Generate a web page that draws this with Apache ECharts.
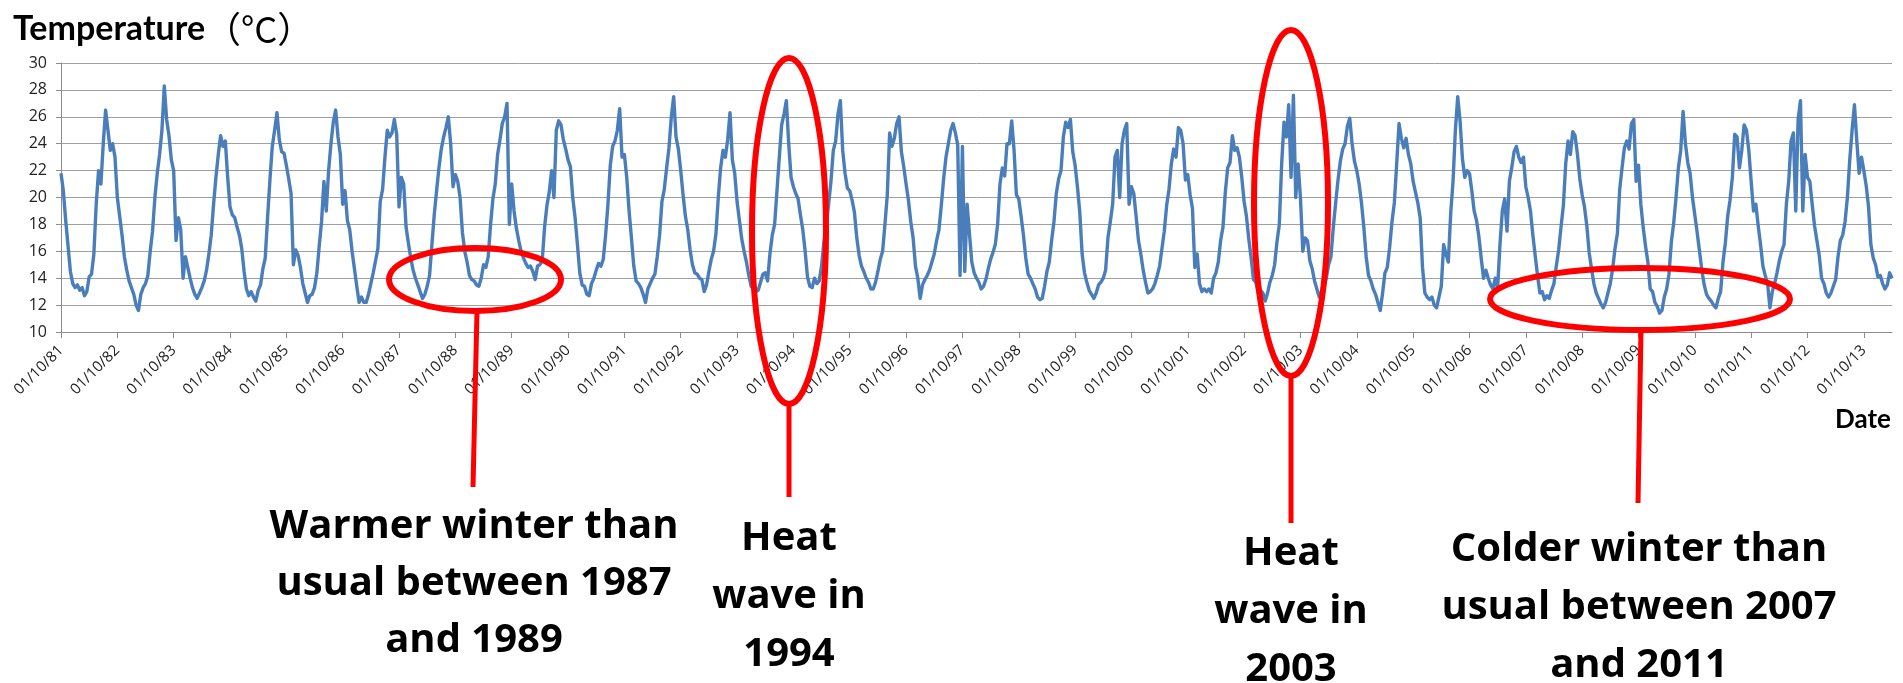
<!DOCTYPE html>
<html>
<head>
<meta charset="utf-8">
<script src="https://cdn.jsdelivr.net/npm/echarts@6/dist/echarts.min.js"></script>
<style>
html,body{margin:0;padding:0;background:#fff;}
#chart{width:1903px;height:683px;}
</style>
</head>
<body>
<div id="chart"></div>
<script>
// Tick labels (one per season start, 1 October)
const tickLabels = ['01/10/81','01/10/82','01/10/83','01/10/84','01/10/85','01/10/86','01/10/87','01/10/88','01/10/89','01/10/90','01/10/91','01/10/92','01/10/93','01/10/94','01/10/95','01/10/96','01/10/97','01/10/98','01/10/99','01/10/00','01/10/01','01/10/02','01/10/03','01/10/04','01/10/05','01/10/06','01/10/07','01/10/08','01/10/09','01/10/10','01/10/11','01/10/12','01/10/13'];

// Temperature (°C), half-monthly readings, each season starting 1 October
const s1981 = [21.8,20.5,18.3,16.4,14.5,13.6,13.3,13.5,13.1,13.3,12.7,13.0,14.1,14.3,15.8,19.5,22.0,21.0,24.0,26.5,25.0,23.5,24.0,23.0];
const s1982 = [20.0,18.6,17.2,15.6,14.6,13.8,13.3,12.8,12.0,11.6,12.8,13.3,13.6,14.2,16.0,17.5,20.0,21.8,23.2,25.0,28.3,25.8,24.6,22.8];
const s1983 = [22.0,16.8,18.5,17.6,14.0,15.6,14.8,14.0,13.3,12.8,12.5,12.9,13.3,13.8,14.6,15.8,17.2,19.5,21.5,23.2,24.6,23.8,24.2,21.5];
const s1984 = [19.3,18.7,18.5,17.8,17.2,16.2,14.5,13.2,12.7,13.0,12.6,12.3,13.1,13.5,14.7,15.5,18.5,21.3,23.8,25.0,26.3,24.3,23.4,23.3];
const s1985 = [22.4,21.4,20.3,15.0,16.1,15.7,14.8,13.6,12.9,12.2,12.7,12.8,13.3,14.4,16.4,18.2,21.2,19.0,22.0,24.0,25.6,26.5,24.5,23.2];
const s1986 = [19.5,20.5,18.3,17.6,16.0,14.7,13.4,12.2,12.6,12.2,12.2,12.8,13.6,14.4,15.3,16.2,19.7,20.6,23.0,25.0,24.5,24.8,25.8,24.7];
const s1987 = [19.3,21.5,21.0,17.8,16.6,15.5,14.6,14.0,13.5,13.0,12.5,12.8,13.4,14.2,16.5,18.7,20.5,22.2,23.6,24.5,25.2,26.0,24.0,20.8];
const s1988 = [21.7,21.2,20.0,17.4,16.0,15.2,14.2,13.9,13.8,13.5,13.4,14.0,15.0,14.8,15.6,18.0,19.9,21.0,23.2,24.3,25.5,26.0,27.0,18.0];
const s1989 = [21.0,19.0,17.7,16.8,16.0,15.5,15.1,14.8,14.9,14.5,13.9,14.9,15.0,15.3,17.8,19.4,20.4,22.0,20.0,25.0,25.7,25.4,24.3,23.6];
const s1990 = [22.8,22.3,20.0,18.5,16.5,14.4,13.5,13.4,12.8,12.7,13.6,14.0,14.6,15.1,14.9,15.4,17.2,19.5,22.4,23.8,24.2,25.0,26.6,23.0];
const s1991 = [23.2,21.5,19.0,17.0,14.9,13.8,13.6,13.3,12.8,12.2,13.2,13.6,14.0,14.3,15.6,17.2,19.7,20.6,22.2,23.7,26.0,27.5,24.5,23.6];
const s1992 = [22.0,20.2,18.6,17.6,16.1,15.0,14.4,14.3,14.0,13.9,13.0,13.5,14.5,15.4,16.0,17.3,20.0,22.2,23.5,23.0,24.3,26.3,22.8,21.8];
const s1993 = [19.7,18.3,16.9,16.0,15.2,14.2,13.4,13.2,13.0,13.1,13.7,14.3,14.4,13.8,15.8,17.2,18.0,20.5,23.0,25.4,26.2,27.2,24.0,21.5];
const s1994 = [20.8,20.3,19.9,18.7,17.6,16.0,14.1,13.4,13.3,14.0,13.6,13.8,14.9,16.7,18.0,19.5,21.2,23.5,24.2,26.2,27.2,23.5,21.8,20.7];
const s1995 = [20.5,19.8,18.9,17.0,15.7,14.9,14.5,14.0,13.7,13.2,13.2,13.7,14.5,15.4,16.0,18.0,20.2,24.8,23.8,24.4,25.5,26.0,23.4,22.3];
const s1996 = [21.0,19.8,18.2,17.0,14.9,14.0,12.5,13.5,13.9,14.2,14.6,15.2,15.8,16.8,17.6,19.4,21.4,23.0,24.0,25.0,25.5,24.8,23.9,14.2];
const s1997 = [23.8,14.5,19.5,17.3,15.2,14.4,14.0,13.7,13.2,13.4,13.9,14.7,15.4,15.9,16.5,18.0,21.0,22.2,21.6,24.0,24.0,25.7,23.5,20.2];
const s1998 = [19.9,18.6,17.2,15.5,14.3,14.0,13.6,13.2,12.6,12.4,12.5,13.4,14.5,15.2,16.8,18.2,20.3,21.4,22.0,24.5,25.6,25.2,25.8,23.4];
const s1999 = [22.4,20.8,18.9,15.8,14.4,13.7,13.1,12.8,12.5,12.9,13.5,13.7,14.0,14.6,17.0,18.2,19.5,23.0,23.5,20.0,24.0,25.0,25.5,19.5];
const s2000 = [20.8,20.3,18.6,16.8,15.8,14.6,13.7,12.9,13.0,13.2,13.6,14.2,14.9,16.2,17.5,19.4,20.6,22.5,23.6,23.0,25.2,25.0,24.0,21.3];
const s2001 = [21.7,20.2,19.2,14.8,15.8,13.6,13.0,13.2,13.0,13.2,12.9,14.0,14.4,15.2,16.8,17.8,20.4,22.2,22.6,24.6,23.5,23.7,23.0,21.5];
const s2002 = [19.7,18.6,16.9,15.5,13.9,13.7,12.9,13.1,12.9,12.3,12.9,13.7,14.2,15.0,16.7,18.0,22.5,25.6,24.5,26.9,21.5,27.6,20.0,22.5];
const s2003 = [20.0,16.0,17.0,16.8,15.3,14.7,13.8,13.2,12.6,13.0,13.4,14.0,15.0,15.6,17.8,19.6,21.3,22.7,23.6,24.0,25.3,25.9,24.0,22.7];
const s2004 = [22.0,21.0,19.6,17.8,15.6,14.2,13.8,13.2,12.8,12.2,11.6,12.9,14.4,14.8,16.3,18.2,19.6,22.5,25.5,24.4,23.7,24.4,23.2,22.5];
const s2005 = [21.2,20.4,19.6,18.5,14.8,12.9,12.6,12.4,12.6,12.0,11.8,12.6,13.4,16.5,15.8,15.2,18.8,21.2,25.0,27.5,25.7,22.9,21.5,22.0];
const s2006 = [21.8,20.5,19.0,18.3,17.1,15.5,14.0,14.6,14.0,13.5,13.2,14.0,13.3,16.5,19.0,19.9,17.5,21.2,22.2,23.4,23.8,23.0,22.6,23.0];
const s2007 = [20.8,20.0,19.0,17.2,15.7,14.2,12.9,13.0,12.4,12.7,12.5,13.1,13.6,14.9,16.1,17.8,19.4,22.5,24.2,23.2,24.9,24.6,23.2,21.4];
const s2008 = [20.2,19.3,17.9,15.9,14.7,13.6,12.9,12.5,12.1,11.8,12.2,12.9,13.6,14.7,16.2,17.3,20.6,22.2,23.7,24.2,23.6,25.5,25.8,21.2];
const s2009 = [22.4,19.5,17.8,16.4,15.2,13.2,13.0,12.2,11.9,11.4,11.6,12.6,13.2,14.3,16.7,18.1,20.0,22.2,23.5,26.4,24.0,22.6,21.8,20.0];
const s2010 = [18.7,17.4,16.0,14.6,13.5,12.8,12.5,12.3,12.0,11.8,12.5,13.0,15.2,16.6,18.6,19.8,21.5,24.7,24.5,22.2,23.5,25.4,25.0,23.5];
const s2011 = [21.2,19.0,19.5,17.9,16.5,14.9,14.2,13.6,11.8,13.0,13.6,14.4,15.3,16.0,16.5,19.5,21.2,24.2,24.8,19.0,25.8,27.2,19.0,23.2];
const s2012 = [21.5,21.2,19.5,17.9,16.8,15.7,14.0,13.6,12.9,12.6,12.9,13.4,13.9,15.6,16.8,17.2,18.2,20.0,22.8,25.0,26.9,24.2,21.8,23.0];
const s2013 = [22.0,20.9,19.3,16.5,15.5,15.0,14.1,14.2,13.6,13.2,13.5,14.4,14.0];

const seasons = [s1981,s1982,s1983,s1984,s1985,s1986,s1987,s1988,s1989,s1990,s1991,s1992,s1993,s1994,s1995,s1996,s1997,s1998,s1999,s2000,s2001,s2002,s2003,s2004,s2005,s2006,s2007,s2008,s2009,s2010,s2011,s2012,s2013];
const STEPS_PER_SEASON = 24;

const data = [];
seasons.forEach(function (arr, i) {
  arr.forEach(function (v, k) { data.push([i + k / STEPS_PER_SEASON, v]); });
});
const tickValues = tickLabels.map(function (_, i) { return i; });

const chart = echarts.init(document.getElementById('chart'), null, {renderer: 'canvas'});
const red = '#ff0000';
const annFont = {fontFamily: 'Open Sans', fontWeight: 'bold', fontSize: 40, fill: '#000', textAlign: 'center', verticalAlign: 'middle', lineHeight: 57};

chart.setOption({
  animation: false,
  backgroundColor: '#ffffff',
  title: {
    text: '{b|Temperature}{r|（°C）}',
    left: 8,
    top: 2,
    textStyle: {
      rich: {
        b: {fontFamily: 'Lato', fontWeight: 'bold', fontSize: 34, color: '#000', lineHeight: 44},
        r: {fontFamily: 'Noto Sans CJK JP', fontWeight: 'normal', fontSize: 36, color: '#000', lineHeight: 44}
      }
    }
  },
  grid: {left: 61, right: 11, top: 63, bottom: 351, containLabel: false},
  xAxis: {
    type: 'value', min: 0, max: 32.5, interval: 1,
    axisLine: {show: true, onZero: false, lineStyle: {color: '#8c8c8c', width: 1}},
    axisTick: {show: true, length: 6, customValues: tickValues, lineStyle: {color: '#8c8c8c'}},
    axisLabel: {
      customValues: tickValues, rotate: 45, margin: 16,
      fontFamily: 'Open Sans', fontSize: 15, color: '#222',
      formatter: function (v) { return tickLabels[Math.round(v)] || ''; }
    },
    splitLine: {show: false}
  },
  yAxis: {
    type: 'value', min: 10, max: 30, interval: 2,
    axisLine: {show: true, lineStyle: {color: '#8c8c8c', width: 1}},
    axisTick: {show: true, length: 5, lineStyle: {color: '#8c8c8c'}},
    axisLabel: {margin: 14, fontFamily: 'Open Sans', fontSize: 16, color: '#222'},
    splitLine: {show: true, lineStyle: {color: '#a0a0a0', width: 1}}
  },
  series: [{
    name: 'Temperature', type: 'line', data: data,
    showSymbol: false, symbol: 'none', smooth: false,
    lineStyle: {color: '#4a7ebb', width: 3.4, join: 'round'},
    z: 2
  }],
  graphic: [
    {type: 'ellipse', z: 10, shape: {cx: 475, cy: 279.5, rx: 86, ry: 31.5}, style: {fill: 'none', stroke: red, lineWidth: 6}},
    {type: 'ellipse', z: 10, shape: {cx: 789, cy: 231, rx: 37, ry: 173}, style: {fill: 'none', stroke: red, lineWidth: 6}},
    {type: 'ellipse', z: 10, shape: {cx: 1291, cy: 203, rx: 37, ry: 173}, style: {fill: 'none', stroke: red, lineWidth: 6}},
    {type: 'ellipse', z: 10, shape: {cx: 1640, cy: 299, rx: 150, ry: 31}, style: {fill: 'none', stroke: red, lineWidth: 6}},
    {type: 'line', z: 10, shape: {x1: 477, y1: 311, x2: 473, y2: 487}, style: {stroke: red, lineWidth: 5}},
    {type: 'line', z: 10, shape: {x1: 789, y1: 404, x2: 789, y2: 497}, style: {stroke: red, lineWidth: 5}},
    {type: 'line', z: 10, shape: {x1: 1291, y1: 376, x2: 1291, y2: 523}, style: {stroke: red, lineWidth: 5}},
    {type: 'line', z: 10, shape: {x1: 1641, y1: 330, x2: 1638, y2: 503}, style: {stroke: red, lineWidth: 5}},
    {type: 'text', z: 11, style: Object.assign({text: 'Warmer winter than\nusual between 1987\nand 1989', x: 474, y: 584}, annFont)},
    {type: 'text', z: 11, style: Object.assign({text: 'Heat\nwave in\n1994', x: 789, y: 597}, annFont, {lineHeight: 58})},
    {type: 'text', z: 11, style: Object.assign({text: 'Heat\nwave in\n2003', x: 1291, y: 612}, annFont, {lineHeight: 58})},
    {type: 'text', z: 11, style: Object.assign({text: 'Colder winter than\nusual between 2007\nand 2011', x: 1639, y: 608}, annFont, {lineHeight: 58})},
    {type: 'text', z: 11, style: {text: 'Date', x: 1835, y: 420, fontFamily: 'Lato', fontWeight: 'bold', fontSize: 26, fill: '#000', textAlign: 'left', verticalAlign: 'middle'}}
  ]
});
</script>
</body>
</html>
